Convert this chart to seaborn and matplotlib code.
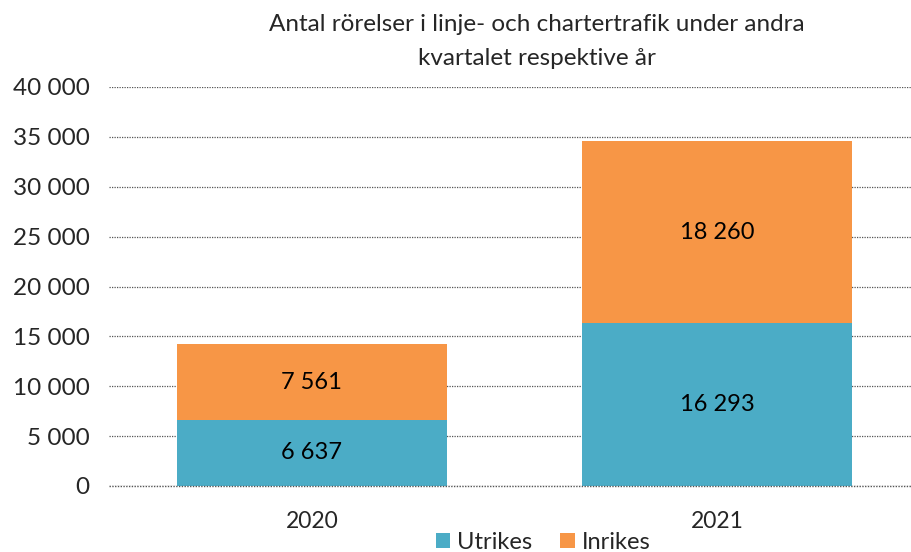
import pandas as pd
import numpy as np
import matplotlib.pyplot as plt
import seaborn as sns

# data
years = ['2020', '2021']
utrikes = [6637, 16293]
inrikes = [7561, 18260]
title = 'Antal rörelser i linje- och chartertrafik under andra\nkvartalet respektive år'

blue = '#4BACC6'
orange = '#F79646'

df = pd.DataFrame({'År': years, 'Utrikes': utrikes, 'Inrikes': inrikes})
df['Totalt'] = df['Utrikes'] + df['Inrikes']

sns.set_style('white')
plt.rcParams['font.family'] = ['Lato', 'DejaVu Sans']

def fmt(v):
    return f'{int(v):,}'.replace(',', ' ')

fig = plt.figure(figsize=(9.12, 5.52), dpi=100)
ax = fig.add_axes([109/912, 66/552, 1 - 109/912, 399/552])

# stacked bars: total (orange) first, then utrikes (blue) on top
sns.barplot(x='År', y='Totalt', data=df, color=orange, width=0.665, ax=ax,
            saturation=1, label='Inrikes', linewidth=0)
sns.barplot(x='År', y='Utrikes', data=df, color=blue, width=0.665, ax=ax,
            saturation=1, label='Utrikes', linewidth=0)

for i in range(len(df)):
    u = df['Utrikes'][i]
    n = df['Inrikes'][i]
    ax.text(i, u / 2, fmt(u), ha='center', va='center', fontsize=17, color='black')
    ax.text(i, u + n / 2, fmt(n), ha='center', va='center', fontsize=17, color='black')

ax.set_ylim(0, 40000)
ax.set_xlim(-0.5, 1.48)
ax.set_yticks(np.arange(0, 40001, 5000))
ax.set_yticklabels([fmt(v) for v in np.arange(0, 40001, 5000)], fontsize=17.5)
ax.tick_params(axis='y', length=0, pad=14)
ax.tick_params(axis='x', length=0, pad=18, labelsize=16.5)
ax.set_xlabel('')
ax.set_ylabel('')
ax.set_axisbelow(True)
ax.yaxis.grid(True, linestyle=(0, (1, 1)), color='#555555', linewidth=0.9)
ax.axhline(0, linestyle=(0, (1, 1)), color='#555555', linewidth=1.0, clip_on=False, zorder=5)
for s in ax.spines.values():
    s.set_visible(False)

handles, labels = ax.get_legend_handles_labels()
order = [labels.index('Utrikes'), labels.index('Inrikes')]
fig.legend([handles[k] for k in order], [labels[k] for k in order],
           loc='lower center', bbox_to_anchor=(543/912, -0.04), ncol=2,
           frameon=False, fontsize=17, handlelength=0.6, handleheight=0.6,
           handletextpad=0.3, columnspacing=1.2)
if ax.get_legend():
    ax.get_legend().remove()

fig.text(537/912, 0.975, title, ha='center', va='top', fontsize=17.5, linespacing=1.75)

fig.savefig('out.png', dpi=100)
